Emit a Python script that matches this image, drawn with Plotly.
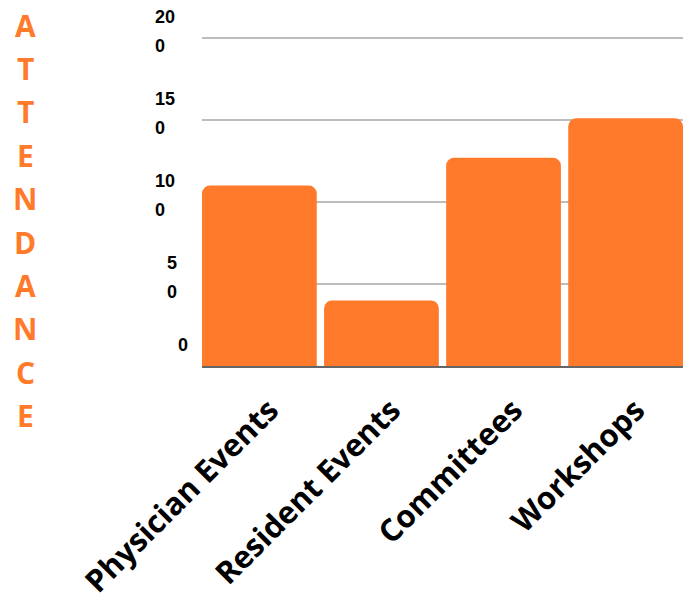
import plotly.graph_objects as go

categories = ["Physician Events", "Resident Events", "Committees", "Workshops"]
attendance = [110, 40, 127, 151]
tick_values = [0, 50, 100, 150, 200]
tick_labels = ["0", "50", "100", "150", "200"]
axis_title = "ATTENDANCE"

ORANGE = "#FF7A2B"

fig = go.Figure()
fig.add_trace(go.Bar(
    x=categories, y=attendance,
    marker=dict(color=ORANGE, cornerradius=8, line=dict(width=0)),
    hoverinfo="skip",
))

annotations = []
# wrapped y tick labels (last digit wraps onto a second line)
for v, lab in zip(tick_values, tick_labels):
    lines = [lab[:-1], lab[-1]] if len(lab) > 1 else [lab]
    xshift = -49 + 11.5 * (3 - len(lab))
    shifts = [21, -8.5]
    for ln, ys in zip(lines, shifts):
        annotations.append(dict(
            text="<b>%s</b>" % ln, xref="paper", yref="y", x=0, y=v,
            xanchor="left", yanchor="middle", xshift=xshift, yshift=ys,
            showarrow=False, align="left",
            font=dict(family="Liberation Sans", size=18, color="#000000"),
        ))

# vertically stacked axis title
for i, ch in enumerate(axis_title):
    annotations.append(dict(
        text="<b>%s</b>" % ch, xref="paper", yref="paper",
        x=0, y=1, xanchor="center", yanchor="middle",
        xshift=-177, yshift=36 - 25 - i * 43.4,
        showarrow=False,
        font=dict(family="Open Sans", size=30, color=ORANGE),
    ))

fig.update_layout(
    width=690, height=593,
    margin=dict(l=202, r=7, t=36, b=227, autoexpand=False),
    paper_bgcolor="white", plot_bgcolor="white",
    bargap=0.06,
    showlegend=False,
    annotations=annotations,
    xaxis=dict(
        range=[-0.47, 3.47],
        tickangle=-45,
        automargin=False,
        tickfont=dict(family="Open Sans", size=31, color="#000000", weight="bold"),
        ticklabelshift=10, ticklabelstandoff=12,
        showline=True, linecolor="#666666", linewidth=1.5,
        ticks="", showgrid=False,
    ),
    yaxis=dict(
        range=[0, 201.2],
        tickvals=tick_values,
        showticklabels=False,
        automargin=False,
        showgrid=True, gridcolor="#bdbdbd", gridwidth=1.5,
        zeroline=False, ticks="",
    ),
)

fig.write_html("out.html")
